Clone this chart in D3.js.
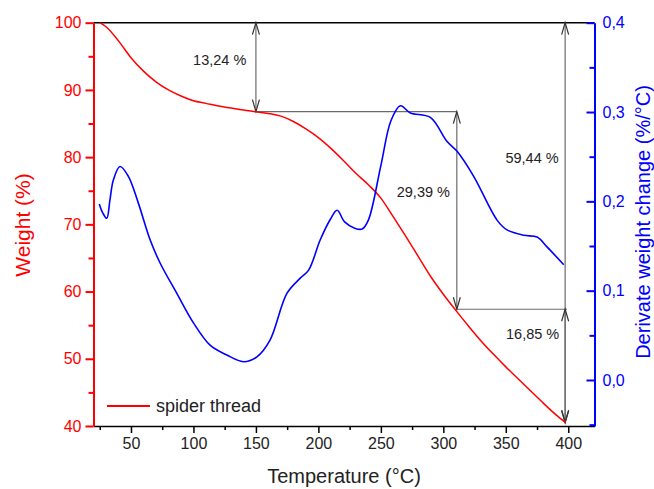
<!DOCTYPE html>
<html>
<head>
<meta charset="utf-8">
<script src="https://cdn.jsdelivr.net/npm/d3@7"></script>
<style>
    body { margin: 0; background: #fff; }
    svg { font-family: "Liberation Sans", Arial, sans-serif; }
</style>
</head>
<body>
<div id="chart"></div>
<script>
// weight curve (TGA)
let weightTemps = [25, 30, 40, 50, 60, 70, 80, 90, 100, 110, 120, 130, 140, 150,
                   160, 170, 180, 190, 200, 210, 220, 230, 240, 250, 260, 270,
                   280, 290, 300, 310, 320, 330, 340, 350, 360, 370, 380, 390, 398];
let weights = [100, 99.4, 97.3, 94.8, 92.8, 91.2, 90.0, 89.1, 88.4, 88.0, 87.6,
               87.3, 87.0, 86.76, 86.5, 86.1, 85.3, 84.2, 82.9, 81.3, 79.5,
               77.6, 75.9, 73.9, 71.1, 68.2, 65.2, 62.2, 59.6, 57.2, 54.9, 52.7,
               50.7, 48.8, 47.0, 45.2, 43.4, 41.7, 40.5];

// derivative curve (DTG)
let derivTemps = [24.6, 27.4, 30.6, 33.2, 35.9, 41.2, 47.9, 55.9, 65.3, 73.3,
                  86.7, 100, 113.3, 126.7, 140, 150.8, 161.4, 174.8, 185.5,
                  192.2, 201.5, 209.6, 215, 221, 229, 235, 240, 250, 258, 265.6,
                  273.6, 289.6, 303, 311, 324.3, 343, 351, 364.4, 375, 383, 396.4];
let derivs = [0.197, 0.187, 0.181, 0.202, 0.224, 0.239, 0.228, 0.198, 0.157,
              0.131, 0.097, 0.064, 0.039, 0.028, 0.0205, 0.026, 0.045, 0.097,
              0.114, 0.123, 0.157, 0.180, 0.190, 0.177, 0.170, 0.169, 0.179,
              0.240, 0.290, 0.307, 0.299, 0.294, 0.267, 0.256, 0.228, 0.179,
              0.168, 0.162, 0.160, 0.149, 0.129];

// tick values
let xTicks = [50, 100, 150, 200, 250, 300, 350, 400];
let xMinor = [25, 75, 125, 175, 225, 275, 325, 375, 425];
let leftTicks = [40, 50, 60, 70, 80, 90, 100];
let leftMinor = [45, 55, 65, 75, 85, 95];
let rightTicks = [0, 0.1, 0.2, 0.3, 0.4];
let rightMinor = [-0.05, 0.05, 0.15, 0.25, 0.35];

// weight loss steps: [temperature, weight from, weight to]
let steps = [[150, 100, 86.76], [310.8, 86.76, 57.37],
             [397.5, 100, 40.56], [397.5, 57.37, 40.52]];
let stepLabels = ["13,24 %", "29,39 %", "59,44 %", "16,85 %"];
let labelTemps = [121, 284, 371, 371.5];
let labelWeights = [93.7, 74.1, 79.1, 52.9];

window.onload = function() {
    let w = 654, h = 489;
    let left = 93.5, right = 594.5, top = 22.7, bottom = 426;

    let svg = d3.select("#chart").append("svg")
                .attr("width", w)
                .attr("height", h);

    let x = d3.scaleLinear().domain([20, 421]).range([left, right]);
    let yL = d3.scaleLinear().domain([40, 100]).range([bottom, top]);
    let yR = d3.scaleLinear().domain([-0.0515, 0.4]).range([bottom, top]);

    let comma = d3.formatLocale({decimal: ",", thousands: ".", grouping: [3],
                                 currency: ["", ""]}).format(".1f");

    // top frame line
    svg.append("line")
       .attr("x1", left).attr("x2", right)
       .attr("y1", top).attr("y2", top)
       .attr("stroke", "#000").attr("stroke-width", 1.5);

    // annotation lines (horizontal levels)
    let gray = "#6b6b6b";
    svg.append("line")
       .attr("x1", x(150)).attr("x2", x(310.8))
       .attr("y1", yL(86.76)).attr("y2", yL(86.76))
       .attr("stroke", gray).attr("stroke-width", 1.2);
    svg.append("line")
       .attr("x1", x(310.8)).attr("x2", x(399))
       .attr("y1", yL(57.37)).attr("y2", yL(57.37))
       .attr("stroke", gray).attr("stroke-width", 1.2);

    // vertical double arrows
    let ann = svg.append("g");
    steps.forEach(function(s) {
        let xx = x(s[0]), y1 = yL(s[1]), y2 = yL(s[2]);
        ann.append("line")
           .attr("x1", xx).attr("x2", xx)
           .attr("y1", y1).attr("y2", y2)
           .attr("stroke", gray).attr("stroke-width", 1.2);
        // open arrowheads at both ends
        [[y1, 1], [y2, -1]].forEach(function(p) {
            ann.append("path")
               .attr("d", "M" + (xx - 3.5) + "," + (p[0] + p[1] * 12) +
                          "L" + xx + "," + p[0] +
                          "L" + (xx + 3.5) + "," + (p[0] + p[1] * 12))
               .attr("fill", "none")
               .attr("stroke", "#333").attr("stroke-width", 1.2);
        });
    });

    ann.selectAll("text.lab")
       .data(stepLabels)
       .enter()
       .append("text")
       .attr("class", "lab")
       .attr("x", function(d, i) { return x(labelTemps[i]); })
       .attr("y", function(d, i) { return yL(labelWeights[i]); })
       .attr("text-anchor", "middle")
       .attr("font-size", 14.5)
       .attr("fill", "#222")
       .text(function(d) { return d; });

    // curves
    let redLine = d3.line()
                    .x(function(d, i) { return x(weightTemps[i]); })
                    .y(function(d) { return yL(d); })
                    .curve(d3.curveMonotoneX);
    svg.append("path")
       .attr("d", redLine(weights))
       .attr("fill", "none")
       .attr("stroke", "#ff0000").attr("stroke-width", 1.5);

    let blueLine = d3.line()
                     .x(function(d, i) { return x(derivTemps[i]); })
                     .y(function(d) { return yR(d); })
                     .curve(d3.curveCatmullRom);
    svg.append("path")
       .attr("d", blueLine(derivs))
       .attr("fill", "none")
       .attr("stroke", "#0000ff").attr("stroke-width", 1.6);

    // x axis
    let gx = svg.append("g")
                .attr("transform", "translate(0," + bottom + ")");
    gx.call(d3.axisBottom(x).tickValues(xTicks).tickSizeInner(7)
              .tickSizeOuter(0).tickPadding(5));
    gx.append("g").call(d3.axisBottom(x).tickValues(xMinor.filter(function(v) {
                return v <= 421; })).tickSize(4).tickFormat(""))
      .select(".domain").remove();
    gx.selectAll("path, line").attr("stroke", "#000").attr("stroke-width", 1.5);
    gx.selectAll("text").attr("font-size", 16).attr("fill", "#222")
      .attr("font-family", "Liberation Sans, Arial, sans-serif");

    // left axis
    let gl = svg.append("g")
                .attr("transform", "translate(" + left + ",0)");
    gl.call(d3.axisLeft(yL).tickValues(leftTicks).tickSizeInner(8)
              .tickSizeOuter(0).tickPadding(4));
    gl.append("g").call(d3.axisLeft(yL).tickValues(leftMinor).tickSize(5)
                          .tickFormat(""))
      .select(".domain").remove();
    gl.selectAll("path, line").attr("stroke", "#ff0000").attr("stroke-width", 2);
    gl.selectAll("text").attr("font-size", 16).attr("fill", "#ff0000")
      .attr("font-family", "Liberation Sans, Arial, sans-serif");

    // right axis, ticks pointing inward
    let gr = svg.append("g")
                .attr("transform", "translate(" + right + ",0)");
    gr.call(d3.axisRight(yR).tickValues(rightTicks).tickSizeInner(-8)
              .tickSizeOuter(0).tickPadding(8).tickFormat(comma));
    gr.append("g").call(d3.axisRight(yR).tickValues(rightMinor.filter(function(v) {
                return v >= -0.0515; })).tickSize(-5).tickFormat(""))
      .select(".domain").remove();
    gr.selectAll("path, line").attr("stroke", "#0000ff").attr("stroke-width", 2);
    gr.selectAll("text").attr("font-size", 16).attr("fill", "#0000ff")
      .attr("font-family", "Liberation Sans, Arial, sans-serif");

    // axis titles
    svg.append("text")
       .attr("x", 344).attr("y", 483)
       .attr("text-anchor", "middle")
       .attr("font-size", 20).attr("fill", "#222")
       .text("Temperature (°C)");
    svg.append("text")
       .attr("transform", "translate(30," + 225 + ") rotate(-90)")
       .attr("text-anchor", "middle")
       .attr("font-size", 21).attr("fill", "#ff0000")
       .text("Weight (%)");
    svg.append("text")
       .attr("transform", "translate(650," + 222 + ") rotate(-90)")
       .attr("text-anchor", "middle")
       .attr("font-size", 20).attr("fill", "#0000ff")
       .text("Derivate weight change (%/°C)");

    // legend
    svg.append("line")
       .attr("x1", 107).attr("x2", 150)
       .attr("y1", 406).attr("y2", 406)
       .attr("stroke", "#ff0000").attr("stroke-width", 1.8);
    svg.append("text")
       .attr("x", 156).attr("y", 412)
       .attr("font-size", 18).attr("fill", "#222")
       .text("spider thread");
};
</script>
</body>
</html>
